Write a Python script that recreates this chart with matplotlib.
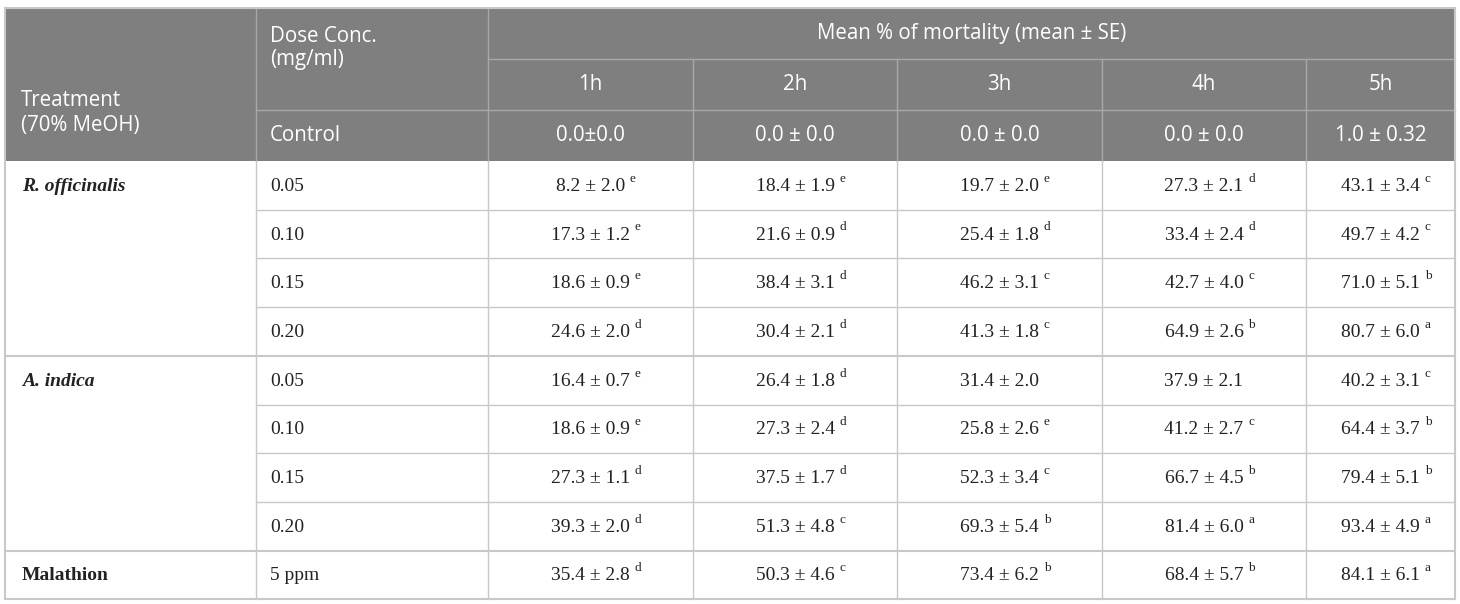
import matplotlib.pyplot as plt
from matplotlib.patches import Rectangle

# table contents
hours = ["1h", "2h", "3h", "4h", "5h"]
control = ["0.0\u00b10.0", "0.0 \u00b1 0.0", "0.0 \u00b1 0.0", "0.0 \u00b1 0.0", "1.0 \u00b1 0.32"]
treatments = ["R. officinalis", "A. indica", "Malathion"]
treatment_style = ["italic", "italic", "normal"]
doses = [
    ["0.05", "0.10", "0.15", "0.20"],
    ["0.05", "0.10", "0.15", "0.20"],
    ["5 ppm"],
]
values = [
    [["8.2 \u00b1 2.0", "18.4 \u00b1 1.9", "19.7 \u00b1 2.0", "27.3 \u00b1 2.1", "43.1 \u00b1 3.4"],
     ["17.3 \u00b1 1.2", "21.6 \u00b1 0.9", "25.4 \u00b1 1.8", "33.4 \u00b1 2.4", "49.7 \u00b1 4.2"],
     ["18.6 \u00b1 0.9", "38.4 \u00b1 3.1", "46.2 \u00b1 3.1", "42.7 \u00b1 4.0", "71.0 \u00b1 5.1"],
     ["24.6 \u00b1 2.0", "30.4 \u00b1 2.1", "41.3 \u00b1 1.8", "64.9 \u00b1 2.6", "80.7 \u00b1 6.0"]],
    [["16.4 \u00b1 0.7", "26.4 \u00b1 1.8", "31.4 \u00b1 2.0", "37.9 \u00b1 2.1", "40.2 \u00b1 3.1"],
     ["18.6 \u00b1 0.9", "27.3 \u00b1 2.4", "25.8 \u00b1 2.6", "41.2 \u00b1 2.7", "64.4 \u00b1 3.7"],
     ["27.3 \u00b1 1.1", "37.5 \u00b1 1.7", "52.3 \u00b1 3.4", "66.7 \u00b1 4.5", "79.4 \u00b1 5.1"],
     ["39.3 \u00b1 2.0", "51.3 \u00b1 4.8", "69.3 \u00b1 5.4", "81.4 \u00b1 6.0", "93.4 \u00b1 4.9"]],
    [["35.4 \u00b1 2.8", "50.3 \u00b1 4.6", "73.4 \u00b1 6.2", "68.4 \u00b1 5.7", "84.1 \u00b1 6.1"]],
]
letters = [
    [["e", "e", "e", "d", "c"],
     ["e", "d", "d", "d", "c"],
     ["e", "d", "c", "c", "b"],
     ["d", "d", "c", "b", "a"]],
    [["e", "d", "", "", "c"],
     ["e", "d", "e", "c", "b"],
     ["d", "d", "c", "b", "b"],
     ["d", "c", "b", "a", "a"]],
    [["d", "c", "b", "b", "a"]],
]

# layout (pixels)
W, H = 1460, 604
col_x = [5, 256, 488, 693, 897, 1102, 1306, 1455]
top, head_row, body_row = 8, 51, 48.7
head_bottom = top + 3 * head_row
head_color = "#7f7f7f"
head_line = "#a8a8a8"
grid_color = "#c8c8c8"
sans = "Open Sans"
serif = "Liberation Serif"

fig = plt.figure(figsize=(W / 100, H / 100), dpi=100)
ax = fig.add_axes([0, 0, 1, 1])
ax.set_xlim(0, W)
ax.set_ylim(H, 0)
ax.axis("off")

# header block
ax.add_patch(Rectangle((col_x[0], top), col_x[-1] - col_x[0], 3 * head_row,
                       facecolor=head_color, edgecolor="none"))
ax.plot([col_x[2], col_x[-1]], [top + head_row] * 2, color=head_line, lw=1)
ax.plot([col_x[1], col_x[-1]], [top + 2 * head_row] * 2, color=head_line, lw=1)
for x in col_x[1:3]:
    ax.plot([x, x], [top, head_bottom], color=head_line, lw=1)
for x in col_x[3:-1]:
    ax.plot([x, x], [top + head_row, head_bottom], color=head_line, lw=1)

hk = dict(color="white", fontsize=14.8, family=sans, va="center")
ax.text(col_x[0] + 16, 100, "Treatment", **hk)
ax.text(col_x[0] + 16, 125, "(70% MeOH)", **hk)
ax.text(col_x[1] + 14, 36, "Dose Conc.", **hk)
ax.text(col_x[1] + 14, 60, "(mg/ml)", **hk)
ax.text(col_x[1] + 14, top + 2.5 * head_row, "Control", **hk)
ax.text((col_x[2] + col_x[-1]) / 2, top + 0.5 * head_row,
        "Mean % of mortality (mean \u00b1 SE)", ha="center", **hk)
for i, h in enumerate(hours):
    cx = (col_x[i + 2] + col_x[i + 3]) / 2
    ax.text(cx, top + 1.5 * head_row, h, ha="center", **hk)
    ax.text(cx, top + 2.5 * head_row, control[i], ha="center", **hk)

# body
bk = dict(color="#222222", fontsize=14, family=serif, va="center")
y = head_bottom
for g, name in enumerate(treatments):
    n = len(doses[g])
    ax.text(col_x[0] + 17, y + body_row / 2 + 1, name, fontweight="bold",
            fontstyle=treatment_style[g], **bk)
    for r in range(n):
        yc = y + (r + 0.5) * body_row + 1
        ax.text(col_x[1] + 14, yc, doses[g][r], **bk)
        for c in range(5):
            cx = (col_x[c + 2] + col_x[c + 3]) / 2
            t = ax.text(cx, yc, values[g][r][c], ha="center", **bk)
            if letters[g][r][c]:
                ax.annotate(letters[g][r][c], xy=(1, 1), xycoords=t,
                            xytext=(3.5, -5), textcoords="offset points",
                            fontsize=9.5, family=serif, color="#222222",
                            va="bottom", ha="left")
        if r > 0:
            ax.plot([col_x[1], col_x[-1]], [y + r * body_row] * 2,
                    color=grid_color, lw=1)
    y_end = y + n * body_row
    for x in col_x[1:-1]:
        ax.plot([x, x], [y, y_end], color=grid_color, lw=1)
    ax.plot([col_x[0], col_x[-1]], [y_end, y_end], color=grid_color, lw=1.5)
    y = y_end

ax.plot([col_x[0], col_x[0]], [top, y], color=grid_color, lw=1.5)
ax.plot([col_x[-1], col_x[-1]], [top, y], color=grid_color, lw=1.5)
ax.plot([col_x[0], col_x[-1]], [top, top], color=grid_color, lw=1.5)

fig.savefig("out.png", dpi=100)
